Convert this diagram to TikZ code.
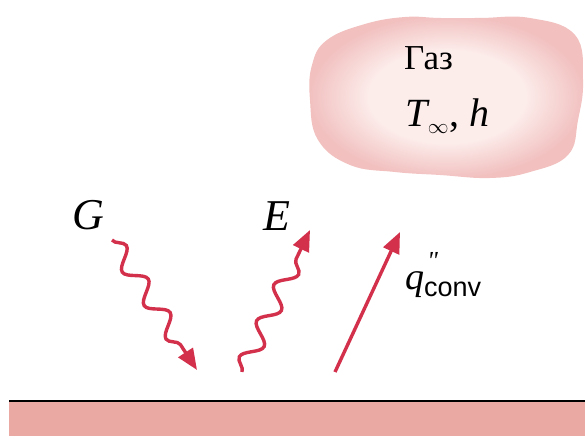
\documentclass[tikz,border=0pt]{standalone}
\usepackage{fontspec}
\setmainfont{Liberation Serif}
\newfontfamily\sansf{Liberation Sans}
\usetikzlibrary{arrows.meta,decorations.pathmorphing}
\definecolor{arrowred}{HTML}{D3304C}
\definecolor{slabpink}{HTML}{EBA9A3}
\definecolor{cloudout}{HTML}{F1C0BF}
\definecolor{cloudin}{HTML}{FCEDEB}
\pgfdeclareradialshading{cloudsh}{\pgfpoint{0bp}{0bp}}{color(0bp)=(cloudin); color(14bp)=(cloudin); color(25bp)=(cloudout); color(50bp)=(cloudout)}
\tikzset{
  ray/.style={draw=arrowred, line width=3.4pt, -{Triangle[length=21pt,width=17pt]}},
  wavy/.style={ray, decorate, decoration={snake, amplitude=9pt, segment length=40pt, post length=24pt}},
  lbl/.style={inner sep=0pt, font=\fontsize{44}{44}\selectfont\itshape},
}
\begin{document}
\begin{tikzpicture}[x=1pt,y=1pt]
\useasboundingbox (0,0) rectangle (585,436);
% slab
\fill[slabpink] (9,0) rectangle (585,35);
\draw[line width=1.6pt] (9,35) -- (585,35);
% cloud
\path[shading=cloudsh] plot[smooth cycle, tension=0.7] coordinates {
 (327,396) (365,412) (405,419) (440,418) (480,418) (530,418) (575,401) (583,356)
 (578,316) (568,281) (530,264) (490,258) (440,261) (395,264) (350,271)
 (318,296) (310,336) (312,371)};
\node[inner sep=0pt, anchor=base west, font=\fontsize{35}{35}\selectfont] (gas) at (404,366) {Газ};
\node[inner sep=0pt, anchor=base west, font=\fontsize{40}{40}\selectfont] (tinf) at (405,309) {\textit{T}\kern-2pt\raisebox{-7pt}{$\scriptscriptstyle\infty$}\kern1pt, \textit{h}};
% labels
\node[lbl] (G) at (88,221) {G};
\node[lbl] (E) at (277,220) {E};
\node[inner sep=0pt, anchor=base west] (q) at (405,146) {\fontsize{38}{38}\selectfont\textit{q}\rlap{\kern3pt\raisebox{20pt}{\fontsize{26}{26}\selectfont\textit{\textquotedbl}}}\raisebox{-7pt}{\sansf\fontsize{27}{27}\selectfont conv}};
% arrows
\coordinate (g0) at (112,196);
\coordinate (g1) at (197,66);
\coordinate (e0) at (242,64);
\coordinate (e1) at (310,206);
\coordinate (c0) at (335,64);
\coordinate (c1) at (400,204);
\draw[wavy] (g0) -- (g1);
\draw[wavy] (e0) -- (e1);
\draw[ray] (c0) -- (c1);
\end{tikzpicture}
\end{document}
